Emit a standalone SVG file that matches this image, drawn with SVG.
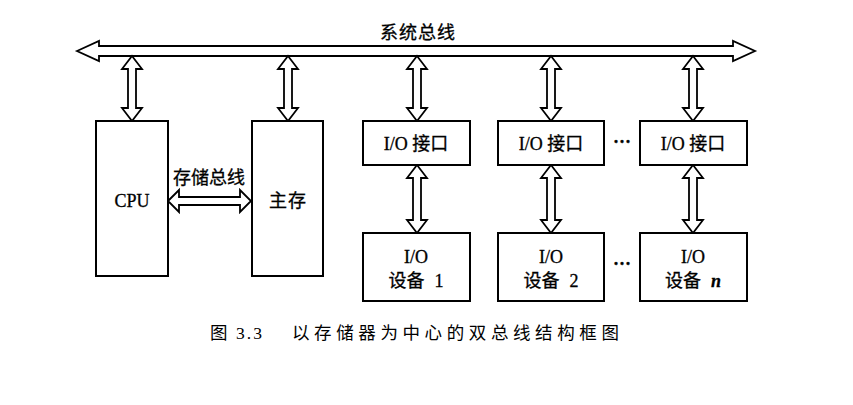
<svg xmlns="http://www.w3.org/2000/svg" width="853" height="405" viewBox="0 0 853 405">
<style>
.box{fill:#fff;stroke:#000;stroke-width:2}
.arr{fill:#fff;stroke:#000;stroke-width:1.8;stroke-linejoin:miter}
.t{font-family:"Liberation Serif","Noto Sans CJK SC",serif;font-size:18px;fill:#000;stroke:#000;stroke-width:0.3;text-anchor:middle}
.cap{font-family:"Liberation Serif","Noto Sans CJK SC",serif;font-size:17.5px;fill:#000}
</style>
<rect width="853" height="405" fill="#fff"/>
<g id="connectors">
<polygon id="system-bus" class="arr" points="77,51 99,41 99,46 733,46 733,41 755,51 733,61 733,56 99,56 99,61"/>
<polygon class="arr" points="132,56 142,69 136,69 136,108 142,108 132,121 122,108 128,108 128,69 122,69"/>
<polygon class="arr" points="288,56 298,69 292,69 292,108 298,108 288,121 278,108 284,108 284,69 278,69"/>
<polygon class="arr" points="417,56 427,69 421,69 421,108 427,108 417,121 407,108 413,108 413,69 407,69"/>
<polygon class="arr" points="551,56 561,69 555,69 555,108 561,108 551,121 541,108 547,108 547,69 541,69"/>
<polygon class="arr" points="693,56 703,69 697,69 697,108 703,108 693,121 683,108 689,108 689,69 683,69"/>
<polygon class="arr" points="417,165 427,178 421,178 421,220 427,220 417,233 407,220 413,220 413,178 407,178"/>
<polygon class="arr" points="551,165 561,178 555,178 555,220 561,220 551,233 541,220 547,220 547,178 541,178"/>
<polygon class="arr" points="693,165 703,178 697,178 697,220 703,220 693,233 683,220 689,220 689,178 683,178"/>
<polygon id="storage-bus" class="arr" points="168,201 179,190 179,197 240,197 240,190 251,201 240,212 240,205 179,205 179,212"/>
<text class="t" x="418" y="39" letter-spacing="1">系统总线</text>
<text class="t" x="209" y="184" font-size="18.5">存储总线</text>
</g>
<g id="cpu">
<rect class="box" x="96" y="121" width="72" height="155"/>
<text class="t" x="132" y="207" font-size="19.5">CPU</text>
</g>
<g id="main-memory">
<rect class="box" x="252" y="121" width="71" height="155"/>
<text class="t" x="288" y="207" letter-spacing="1">主存</text>
</g>
<g id="io-interface-1">
<rect class="box" x="363" y="121" width="107" height="44"/>
<text class="t" x="416" y="150">I/O 接口</text>
</g>
<g id="io-interface-2">
<rect class="box" x="498" y="121" width="106" height="44"/>
<text class="t" x="551" y="150">I/O 接口</text>
</g>
<g id="io-interface-n">
<rect class="box" x="640" y="121" width="107" height="44"/>
<text class="t" x="693" y="150">I/O 接口</text>
</g>
<g id="io-device-1">
<rect class="box" x="363" y="233" width="107" height="68"/>
<text class="t" x="416" y="263">I/O</text>
<text class="t" x="416" y="287">设备<tspan dx="10">1</tspan></text>
</g>
<g id="io-device-2">
<rect class="box" x="498" y="233" width="106" height="68"/>
<text class="t" x="551" y="263">I/O</text>
<text class="t" x="551" y="287">设备<tspan dx="10">2</tspan></text>
</g>
<g id="io-device-n">
<rect class="box" x="640" y="233" width="107" height="68"/>
<text class="t" x="693" y="263">I/O</text>
<text class="t" x="693" y="287">设备<tspan dx="10" font-style="italic" font-weight="bold">n</tspan></text>
</g>
<g id="ellipses">
<text class="t" x="622" y="148" font-weight="bold">···</text>
<text class="t" x="622" y="270" font-weight="bold">···</text>
</g>
<g id="caption">
<text class="cap" x="210" y="339">图</text>
<text class="cap" x="236" y="339" letter-spacing="2">3.3</text>
<text class="cap" x="292" y="339" letter-spacing="4.6">以存储器为中心的双总线结构框图</text>
</g>
</svg>
